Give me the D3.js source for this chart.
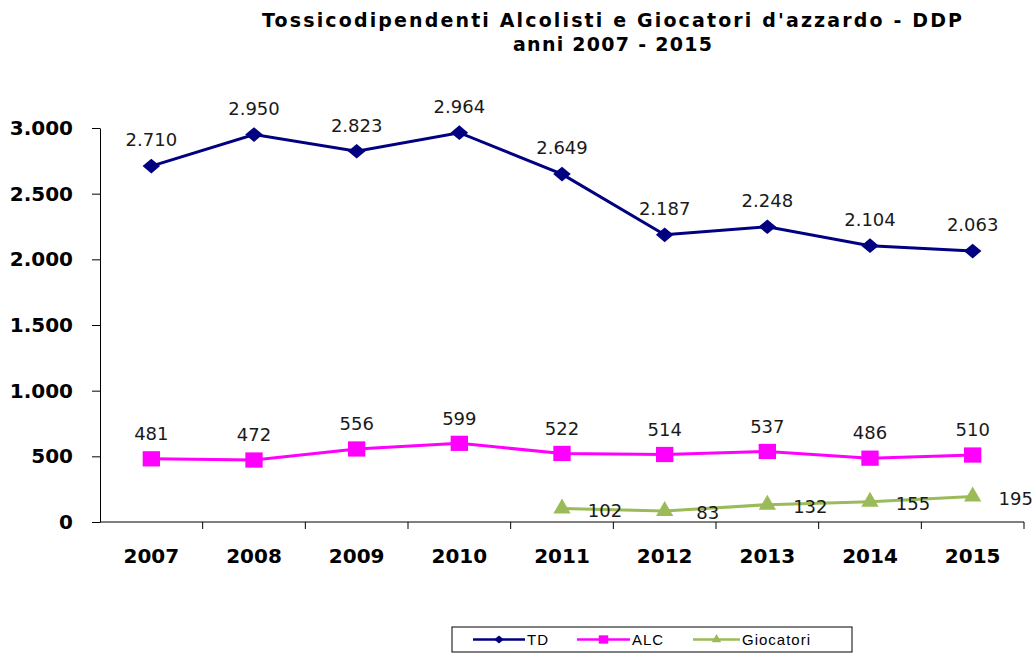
<!DOCTYPE html>
<html>
<head>
<meta charset="utf-8">
<script src="https://cdn.jsdelivr.net/npm/d3@7"></script>
<style>
  body { margin: 0; background: #fff; }
  svg { font-family: "DejaVu Sans", sans-serif; }
</style>
</head>
<body>
<div id="chart"></div>
<script>
// Dati
const anni = ["2007", "2008", "2009", "2010", "2011", "2012", "2013", "2014", "2015"];
const td = [2710, 2950, 2823, 2964, 2649, 2187, 2248, 2104, 2063];
const alc = [481, 472, 556, 599, 522, 514, 537, 486, 510];
const giocatori = [null, null, null, null, 102, 83, 132, 155, 195];
const yTicks = [0, 500, 1000, 1500, 2000, 2500, 3000];

const width = 1036;
const height = 658;

const svg = d3.select("#chart").append("svg")
  .attr("width", width)
  .attr("height", height);

const x = d3.scaleBand()
  .domain(anni)
  .range([100, 1024]);

const y = d3.scaleLinear()
  .domain([0, 3000])
  .range([522, 128]);

const fmt = d3.formatLocale({ decimal: ",", thousands: ".", grouping: [3], currency: ["", ""] }).format(",d");

// Titolo
svg.append("text")
  .attr("x", 262).attr("y", 27)
  .attr("textLength", 700).attr("lengthAdjust", "spacing")
  .style("font-weight", "bold").style("font-size", "19px")
  .text("Tossicodipendenti Alcolisti e Giocatori d'azzardo  - DDP");
svg.append("text")
  .attr("x", 513).attr("y", 51)
  .attr("textLength", 199).attr("lengthAdjust", "spacing")
  .style("font-weight", "bold").style("font-size", "19px")
  .text("anni 2007 - 2015");

// Asse Y
const yAxis = svg.append("g")
  .attr("transform", "translate(100,0)")
  .call(d3.axisLeft(y).tickValues(yTicks).tickFormat(fmt).tickSize(8).tickPadding(19).tickSizeOuter(0));
yAxis.selectAll("text")
  .style("font-size", "20px").style("font-weight", "bold")
  .style("font-family", "DejaVu Sans")
  .attr("fill", "#000");
yAxis.selectAll("path, line").attr("stroke", "#000");

// Asse X
const xAxis = svg.append("g").attr("transform", "translate(0,522)");
xAxis.append("line")
  .attr("x1", 100).attr("x2", 1024)
  .attr("stroke", "#000");
xAxis.selectAll("line.tick")
  .data(anni)
  .enter().append("line")
  .attr("class", "tick")
  .attr("x1", (d) => x(d) + x.bandwidth()).attr("x2", (d) => x(d) + x.bandwidth())
  .attr("y1", 0).attr("y2", 7)
  .attr("stroke", "#000");
xAxis.selectAll("text")
  .data(anni)
  .enter().append("text")
  .attr("x", (d) => x(d) + x.bandwidth() / 2)
  .attr("y", 41)
  .attr("text-anchor", "middle")
  .style("font-size", "20px").style("font-weight", "bold")
  .text((d) => d);

const cx = (i) => x(anni[i]) + x.bandwidth() / 2;

// Simboli
const rombo = {
  draw(ctx, size) {
    const w = Math.sqrt(size) * 0.62, h = Math.sqrt(size) * 0.52;
    ctx.moveTo(0, -h); ctx.lineTo(w, 0); ctx.lineTo(0, h); ctx.lineTo(-w, 0); ctx.closePath();
  }
};
const quadrato = {
  draw(ctx, size) {
    const w = Math.sqrt(size) / 2, h = w * 0.88;
    ctx.rect(-w, -h, 2 * w, 2 * h);
  }
};

const serie = [
  { nome: "TD", valori: td, colore: "#000080", simbolo: rombo, size: 200, dy: -26, dx: 0, anchor: "middle" },
  { nome: "ALC", valori: alc, colore: "#FF00FF", simbolo: quadrato, size: 300, dy: -25, dx: 0, anchor: "middle" },
  { nome: "Giocatori", valori: giocatori, colore: "#9BBB59", simbolo: d3.symbolTriangle, size: 130, dy: 2, dx: 43, anchor: "middle" }
];

const line = d3.line()
  .defined((d) => d != null)
  .x((d, i) => cx(i))
  .y((d) => y(d));

serie.forEach((s) => {
  svg.append("path")
    .datum(s.valori)
    .attr("d", line)
    .attr("fill", "none")
    .attr("stroke", s.colore)
    .attr("stroke-width", 3);

  const punti = s.valori.map((v, i) => ({ v, i })).filter((d) => d.v != null);

  svg.selectAll(null)
    .data(punti)
    .enter().append("path")
    .attr("d", d3.symbol().type(s.simbolo).size(s.size))
    .attr("transform", (d) => `translate(${cx(d.i)},${y(d.v)})`)
    .attr("fill", s.colore);

  svg.selectAll(null)
    .data(punti)
    .enter().append("text")
    .attr("x", (d) => cx(d.i) + s.dx)
    .attr("y", (d) => y(d.v) + s.dy)
    .attr("dy", "0.35em")
    .attr("text-anchor", s.anchor)
    .style("font-size", "18px")
    .attr("fill", "#1a1a1a")
    .text((d) => fmt(d.v));
});

// Legenda
const leg = svg.append("g").attr("transform", "translate(452,627)");
leg.append("rect")
  .attr("width", 400).attr("height", 25)
  .attr("fill", "#fff").attr("stroke", "#000");
const legX = [21, 125, 241];
const legW = [52, 53, 47];
serie.forEach((s, i) => {
  const g = leg.append("g").attr("transform", `translate(${legX[i]},12.5)`);
  g.append("line").attr("x1", 0).attr("x2", legW[i])
    .attr("stroke", s.colore).attr("stroke-width", 2.5);
  g.append("path")
    .attr("d", d3.symbol().type(s.simbolo).size(s.size * 0.3))
    .attr("transform", `translate(${legW[i] / 2},0)`)
    .attr("fill", s.colore);
  g.append("text")
    .attr("x", legW[i] + 2).attr("dy", "0.35em")
    .style("font-size", "15px")
    .style("font-family", "Liberation Sans, Arial, sans-serif")
    .style("letter-spacing", "1px")
    .text(s.nome);
});
</script>
</body>
</html>
